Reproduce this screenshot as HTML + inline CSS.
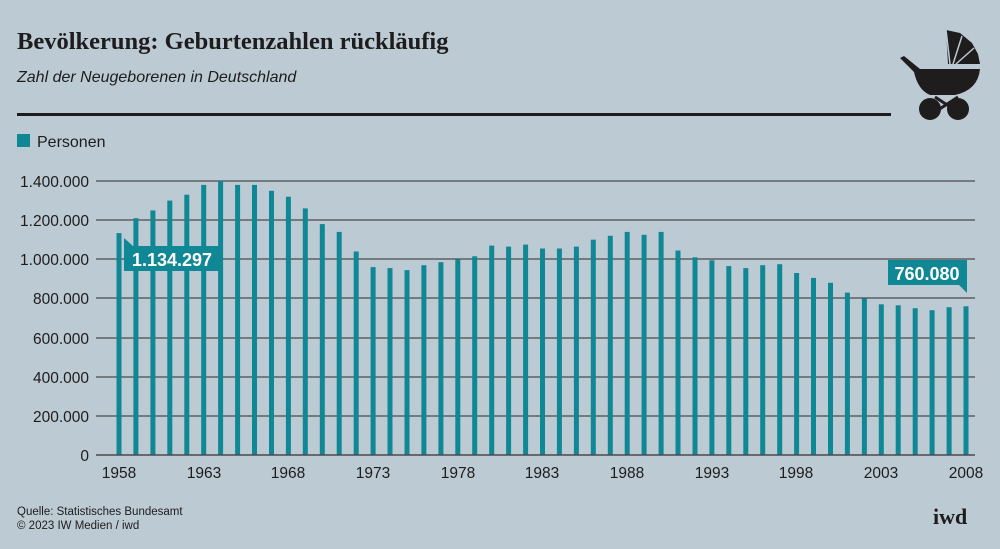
<!DOCTYPE html>
<html><head><meta charset="utf-8"><style>
html,body{margin:0;padding:0;background:#bccad3;}
svg{display:block;font-family:"Liberation Sans",sans-serif;}
</style></head><body>
<svg width="1000" height="549" viewBox="0 0 1000 549" xmlns="http://www.w3.org/2000/svg">
<rect width="1000" height="549" fill="#bccad3"/>
<text x="17" y="49" font-family="Liberation Serif,serif" font-weight="bold" font-size="24.5" fill="#1e1c1c">Bevölkerung: Geburtenzahlen rückläufig</text>
<text x="17" y="82" font-style="italic" font-size="16" fill="#1e1c1c">Zahl der Neugeborenen in Deutschland</text>
<rect x="17" y="113" width="874" height="3" fill="#1e1c1c"/>
<g fill="#1e1c1c">
<path d="M900 58 L904 56 L920 69 L980 69 Q978 90 955 95 L930 95 Q918 90 914 72 Z"/>
<path d="M946 30 L960 33 L972 43 L978 54 L980 64 L948 64 Z"/>
<path d="M935 97 L958 112 M958 97 L935 112" stroke="#1e1c1c" stroke-width="3"/>
<circle cx="930" cy="109" r="11"/><circle cx="958" cy="109" r="11"/>
</g>
<path d="M946 30 L950 64 M962 36 L953 64 M974 48 L956 64" stroke="#bccad3" stroke-width="1.5"/>
<rect x="17" y="134" width="13" height="13" fill="#0f8795"/>
<text x="37" y="147" font-size="16" fill="#1e1c1c">Personen</text>
<g stroke="#4a4a4a" stroke-width="1.3">
<line x1="96" y1="181" x2="975" y2="181"/><line x1="96" y1="220" x2="975" y2="220"/>
<line x1="96" y1="259" x2="975" y2="259"/><line x1="96" y1="298" x2="975" y2="298"/>
<line x1="96" y1="338" x2="975" y2="338"/><line x1="96" y1="377" x2="975" y2="377"/>
<line x1="96" y1="416" x2="975" y2="416"/>
</g>
<g font-size="15.5" fill="#1e1c1c" text-anchor="end">
<text x="89" y="187">1.400.000</text><text x="89" y="226">1.200.000</text>
<text x="89" y="265">1.000.000</text><text x="89" y="304">800.000</text>
<text x="89" y="344">600.000</text><text x="89" y="383">400.000</text>
<text x="89" y="422">200.000</text><text x="89" y="461">0</text>
</g>
<g fill="#0f8795">
<rect x="116.5" y="233.1" width="5" height="221.9"/>
<rect x="133.4" y="218.2" width="5" height="236.8"/>
<rect x="150.4" y="210.4" width="5" height="244.6"/>
<rect x="167.3" y="200.6" width="5" height="254.4"/>
<rect x="184.3" y="194.7" width="5" height="260.3"/>
<rect x="201.2" y="184.9" width="5" height="270.1"/>
<rect x="218.1" y="181" width="5" height="274"/>
<rect x="235.1" y="184.9" width="5" height="270.1"/>
<rect x="252.0" y="184.9" width="5" height="270.1"/>
<rect x="269.0" y="190.8" width="5" height="264.2"/>
<rect x="285.9" y="196.7" width="5" height="258.3"/>
<rect x="302.8" y="208.4" width="5" height="246.6"/>
<rect x="319.8" y="224.1" width="5" height="230.9"/>
<rect x="336.7" y="231.9" width="5" height="223.1"/>
<rect x="353.7" y="251.5" width="5" height="203.5"/>
<rect x="370.6" y="267.1" width="5" height="187.9"/>
<rect x="387.5" y="268.1" width="5" height="186.9"/>
<rect x="404.5" y="270.1" width="5" height="184.9"/>
<rect x="421.4" y="265.2" width="5" height="189.8"/>
<rect x="438.4" y="262.2" width="5" height="192.8"/>
<rect x="455.3" y="259.3" width="5" height="195.7"/>
<rect x="472.2" y="256.3" width="5" height="198.7"/>
<rect x="489.2" y="245.6" width="5" height="209.4"/>
<rect x="506.1" y="246.6" width="5" height="208.4"/>
<rect x="523.1" y="244.6" width="5" height="210.4"/>
<rect x="540.0" y="248.5" width="5" height="206.5"/>
<rect x="556.9" y="248.5" width="5" height="206.5"/>
<rect x="573.9" y="246.6" width="5" height="208.4"/>
<rect x="590.8" y="239.7" width="5" height="215.3"/>
<rect x="607.8" y="235.8" width="5" height="219.2"/>
<rect x="624.7" y="231.9" width="5" height="223.1"/>
<rect x="641.6" y="234.8" width="5" height="220.2"/>
<rect x="658.6" y="231.9" width="5" height="223.1"/>
<rect x="675.5" y="250.5" width="5" height="204.5"/>
<rect x="692.5" y="257.3" width="5" height="197.7"/>
<rect x="709.4" y="260.3" width="5" height="194.7"/>
<rect x="726.3" y="266.1" width="5" height="188.9"/>
<rect x="743.3" y="268.1" width="5" height="186.9"/>
<rect x="760.2" y="265.2" width="5" height="189.8"/>
<rect x="777.2" y="264.2" width="5" height="190.8"/>
<rect x="794.1" y="273.0" width="5" height="182.0"/>
<rect x="811.0" y="277.9" width="5" height="177.1"/>
<rect x="828.0" y="282.8" width="5" height="172.2"/>
<rect x="844.9" y="292.6" width="5" height="162.4"/>
<rect x="861.9" y="298.4" width="5" height="156.6"/>
<rect x="878.8" y="304.3" width="5" height="150.7"/>
<rect x="895.7" y="305.3" width="5" height="149.7"/>
<rect x="912.7" y="308.2" width="5" height="146.8"/>
<rect x="929.6" y="310.2" width="5" height="144.8"/>
<rect x="946.6" y="307.2" width="5" height="147.8"/>
<rect x="963.5" y="306.3" width="5" height="148.7"/>
</g>
<line x1="96" y1="455" x2="975" y2="455" stroke="#4a4a4a" stroke-width="1.5"/>
<g font-size="15.5" fill="#1e1c1c" text-anchor="middle">
<text x="119" y="478">1958</text><text x="204" y="478">1963</text><text x="288" y="478">1968</text>
<text x="373" y="478">1973</text><text x="458" y="478">1978</text><text x="542" y="478">1983</text>
<text x="627" y="478">1988</text><text x="712" y="478">1993</text><text x="796" y="478">1998</text>
<text x="881" y="478">2003</text><text x="966" y="478">2008</text>
</g>
<path d="M124 238 L133 246 L220 246 L220 271 L124 271 Z" fill="#0f8795"/>
<text x="172" y="266" font-weight="bold" font-size="18" fill="#fff" text-anchor="middle">1.134.297</text>
<path d="M888 260 L967 260 L967 293 L959 285 L888 285 Z" fill="#0f8795"/>
<text x="927" y="280" font-weight="bold" font-size="18" fill="#fff" text-anchor="middle">760.080</text>
<text x="17" y="515" font-size="11.5" fill="#1e1c1c">Quelle: Statistisches Bundesamt</text>
<text x="17" y="529" font-size="11.5" fill="#1e1c1c">© 2023 IW Medien / iwd</text>
<text x="933" y="524" font-family="Liberation Serif,serif" font-weight="bold" font-size="22" fill="#1e1c1c">iwd</text>
</svg>
</body></html>
